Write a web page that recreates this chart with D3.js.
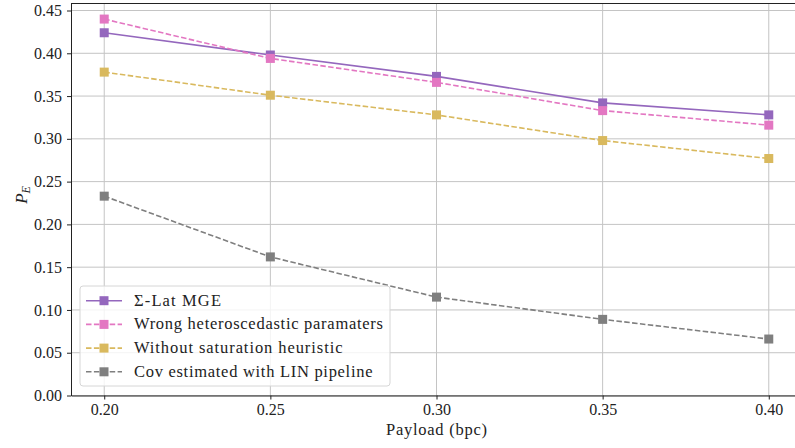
<!DOCTYPE html>
<html lang="en">
<head>
<meta charset="utf-8">
<title>PE vs payload</title>
<script src="https://d3js.org/d3.v7.min.js"></script>
<style>
  body { margin: 0; background: #fff; }
  svg text { font-family: "Liberation Serif", "Times New Roman", serif; }
</style>
</head>
<body>
<div id="chart"></div>
<script>
/* global d3 */

var payloads = [0.20, 0.25, 0.30, 0.35, 0.40];
var xTicks = [0.20, 0.25, 0.30, 0.35, 0.40];
var yTicks = [0.00, 0.05, 0.10, 0.15, 0.20, 0.25, 0.30, 0.35, 0.40, 0.45];

var sigmaLat = [0.424, 0.398, 0.373, 0.342, 0.328];
var wrongHetero = [0.440, 0.394, 0.366, 0.333, 0.316];
var noSaturation = [0.378, 0.351, 0.328, 0.298, 0.277];
var covLin = [0.233, 0.162, 0.115, 0.089, 0.066];

var seriesNames = ["\u03A3-Lat MGE", "Wrong heteroscedastic paramaters",
    "Without saturation heuristic", "Cov estimated with LIN pipeline"];
var seriesColors = ["#9467bd", "#e377c2", "#d9b95e", "#7f7f7f"];
var seriesDash = [null, "5.5,2.4", "5.5,2.4", "5.5,2.4"];
var seriesValues = [sigmaLat, wrongHetero, noSaturation, covLin];

var width = 795, height = 448;
var margin = {left: 71, right: -7, top: 3.5, bottom: 52.5};
var serif = "'Liberation Serif', 'Times New Roman', serif";
// the original used a wider LaTeX font; stretch labels to its widths
var legendTextWidths = [87, 249, 208.5, 238.5];

var svg = d3.select("#chart").append("svg")
    .attr("width", width)
    .attr("height", height);

var x = d3.scaleLinear()
    .domain([0.19, 0.41])
    .range([margin.left, width - margin.right]);

var y = d3.scaleLinear()
    .domain([0, 0.4582])
    .range([height - margin.bottom, margin.top]);

var plot = svg.append("g");

// grid
plot.selectAll("line.gx").data(xTicks).enter().append("line")
    .attr("x1", function(d) { return x(d); })
    .attr("x2", function(d) { return x(d); })
    .attr("y1", y.range()[0]).attr("y2", y.range()[1])
    .attr("stroke", "#c4c4c4").attr("stroke-width", 1);

plot.selectAll("line.gy").data(yTicks).enter().append("line")
    .attr("y1", function(d) { return y(d); })
    .attr("y2", function(d) { return y(d); })
    .attr("x1", x.range()[0]).attr("x2", x.range()[1])
    .attr("stroke", "#c4c4c4").attr("stroke-width", 1);

// axes
var xAxis = d3.axisBottom(x).tickValues(xTicks).tickFormat(d3.format(".2f"))
    .tickSizeOuter(0).tickSizeInner(4).tickPadding(4);
var yAxis = d3.axisLeft(y).tickValues(yTicks).tickFormat(d3.format(".2f"))
    .tickSizeOuter(0).tickSizeInner(4).tickPadding(5);

var gx = svg.append("g")
    .attr("transform", "translate(0," + y(0) + ")")
    .call(xAxis);
var gy = svg.append("g")
    .attr("transform", "translate(" + margin.left + ",0)")
    .call(yAxis);

[gx, gy].forEach(function(g) {
    g.selectAll("text").attr("font-size", 16).attr("fill", "#222")
        .style("font-family", serif);
    g.selectAll("line").attr("stroke", "#222").attr("stroke-width", 1);
    g.select(".domain").attr("stroke", "#222").attr("stroke-width", 1);
});

// top spine
svg.append("line")
    .attr("x1", margin.left).attr("x2", width)
    .attr("y1", margin.top).attr("y2", margin.top)
    .attr("stroke", "#222").attr("stroke-width", 1);

// series
var line = d3.line()
    .x(function(d, i) { return x(payloads[i]); })
    .y(function(d) { return y(d); });

seriesValues.forEach(function(vals, k) {
    plot.append("path")
        .datum(vals)
        .attr("d", line)
        .attr("fill", "none")
        .attr("stroke", seriesColors[k])
        .attr("stroke-width", 1.6)
        .attr("stroke-dasharray", seriesDash[k]);
    plot.selectAll(null).data(vals).enter().append("rect")
        .attr("x", function(d, i) { return x(payloads[i]) - 4.5; })
        .attr("y", function(d) { return y(d) - 4.5; })
        .attr("width", 9).attr("height", 9)
        .attr("fill", seriesColors[k]);
});

// axis labels
svg.append("text")
    .attr("x", x(0.30)).attr("y", 435)
    .attr("text-anchor", "middle")
    .attr("font-size", 16.5).attr("fill", "#222")
    .attr("textLength", 101)
    .text("Payload (bpc)");

var yl = svg.append("text")
    .attr("transform", "translate(27," + 195 + ") rotate(-90)")
    .attr("text-anchor", "middle")
    .attr("font-size", 17).attr("fill", "#222")
    .attr("font-style", "italic");
yl.append("tspan").text("P");
yl.append("tspan").attr("font-size", 12).attr("dy", 3).text("E");

// legend
var lg = svg.append("g").attr("transform", "translate(80,286)");
lg.append("rect")
    .attr("width", 310).attr("height", 100).attr("rx", 3)
    .attr("fill", "#fff").attr("fill-opacity", 0.8)
    .attr("stroke", "#d6d6d6").attr("stroke-width", 1);

seriesNames.forEach(function(name, k) {
    var ly = 14.7 + k * 23.7;
    lg.append("line")
        .attr("x1", 6).attr("x2", 42)
        .attr("y1", ly).attr("y2", ly)
        .attr("stroke", seriesColors[k]).attr("stroke-width", 1.6)
        .attr("stroke-dasharray", seriesDash[k]);
    lg.append("rect")
        .attr("x", 24 - 4.5).attr("y", ly - 4.5)
        .attr("width", 9).attr("height", 9)
        .attr("fill", seriesColors[k]);
    lg.append("text")
        .attr("x", 54).attr("y", ly + 5)
        .attr("font-size", 16.5).attr("fill", "#222")
        .attr("textLength", legendTextWidths[k])
        .text(name);
});
</script>
</body>
</html>
